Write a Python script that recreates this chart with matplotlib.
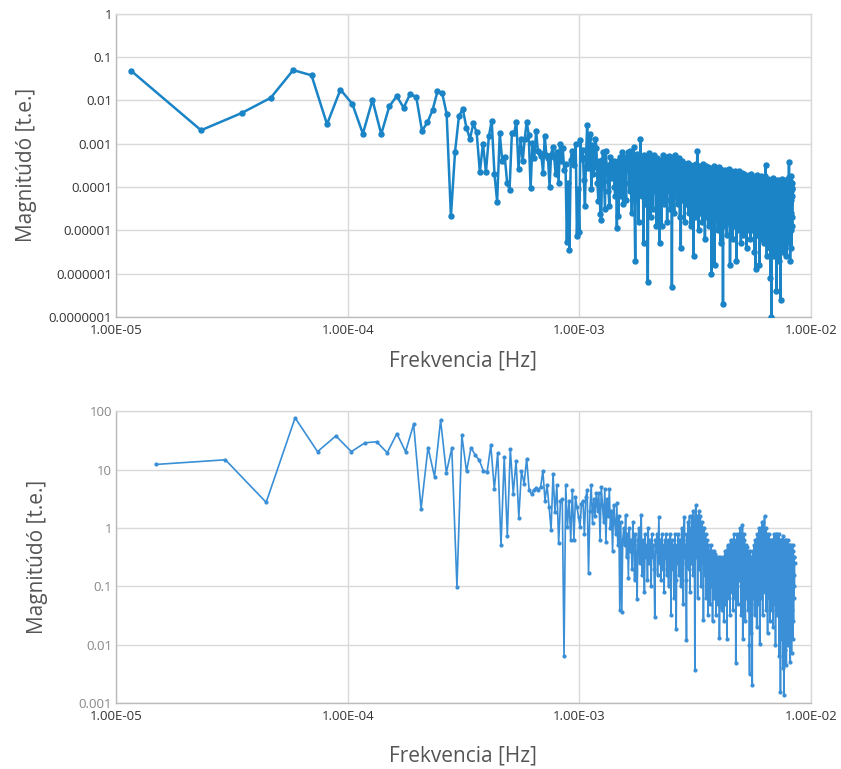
import numpy as np
import matplotlib
matplotlib.use("Agg")
import matplotlib.pyplot as plt
from matplotlib.ticker import FixedLocator, FixedFormatter

plt.rcParams['font.family'] = ['Open Sans', 'DejaVu Sans']

# FFT bin spacing of the two spectra [Hz]
df_top = 1.164e-5
df_bottom = 1.483e-5

# log10 of the magnitude (one value per bin)
top_log = [
    -1.32, -2.69, -2.29, -1.94, -1.30, -1.42, -2.55, -1.75, -2.08, -2.77,
    -1.99, -2.78, -2.14, -1.90, -2.17, -1.85, -1.92, -2.70, -2.51, -2.22,
    -1.79, -1.83, -2.31, -4.68, -3.19, -2.36, -2.20, -2.63, -2.89, -2.53,
    -2.74, -3.66, -3.00, -3.66, -2.83, -2.47, -3.70, -4.34, -2.76, -3.41,
    -3.31, -3.91, -4.06, -2.76, -2.76, -2.49, -3.58, -2.89, -3.40, -2.89,
    -2.49, -2.79,
    -4.03, -2.99, -3.33, -2.71, -3.17, -3.22, -3.28, -3.67, -2.82, -3.25,
    -3.33, -3.99, -3.25, -3.08, -3.31, -3.71, -3.2, -3.9, -3.0, -3.4,
    -3.1, -3.6, -3.48, -5.28, -3.9, -5.45, -3.37, -3.16, -3.28, -3.5,
    -3.0, -5.13, -4.05, -5.03, -2.91, -3.36, -3.14, -3.83, -4.43, -3.3,
    -2.56, -3.56, -2.86, -2.78, -4.05, -3.03, -3.7, -3.53, -2.89, -3.10,
    -3.9, -4.33, -3.4, -4.62, -4.76, -3.37, -3.2, -3.87, -4.51, -3.16,
    -3.6, -3.49, -4.1, -4.45, -3.3, -3.53, -3.8, -3.60, -3.41, -4.0,
    -4.22, -3.5, -4.95, -3.4, -4.68, -3.53, -3.3, -4.2, -3.7, -3.2,
    -4.4, -3.5, -3.3, -3.9, -4.3, -3.4, -3.2, -3.6,
    -3.42, -4.1, -3.18, -3.7, -4.6, -3.31, -3.9, -3.08, -4.3, -5.7, -3.52, -3.24, -4.0,
    -3.63, -4.8, -3.35, -3.71, -2.89, -3.47, -4.2, -3.38, -3.9, -5.3, -3.27, -3.6,
    -4.4, -3.33, -3.8, -4.1, -6.2, -3.46, -3.21, -4.0, -3.58, -4.7, -3.36, -3.9, -3.29,
    -4.5, -3.66, -3.25, -4.1, -3.52, -3.4, -4.9, -3.61, -3.32, -4.2, -3.77, -3.37,
    -5.3, -3.57, -3.39, -4.0, -4.9, -3.48, -3.26, -3.9, -4.4, -3.41, -3.69, -3.3, -4.3,
    -3.62, -3.35, -4.8, -3.51, -3.88, -3.28, -4.1, -3.64, -3.43, -4.5, -3.72, -3.31,
    -6.3, -3.53, -3.38, -4.0, -3.65, -4.6, -3.42, -3.27, -3.9, -4.2, -3.49, -3.74, -3.36,
    -4.4, -3.6, -3.33, -4.0, -3.55, -4.7, -3.63, -5.4, -3.47, -3.4, -3.9, -4.3,
    -3.59, -3.44, -4.1, -3.71, -4.8, -3.52, -3.46, -3.9, -4.4, -3.62, -3.5, -4.2, -3.79,
    -3.45, -4.6, -3.57, -4.0, -3.49, -3.73, -4.9, -3.6, -3.53, -4.3, -3.86, -3.58,
    -4.5, -3.68, -5.6, -3.55, -3.5, -4.1, -3.78, -4.7, -3.61, -3.47, -4.2, -3.87, -3.18,
    -4.4, -3.64, -3.7, -5.0, -3.56, -3.51, -4.0, -4.6, -3.69, -3.59, -4.3, -3.81,
    -3.62, -4.8, -3.71, -4.1, -3.48, -3.66, -4.5, -3.93, -3.58, -5.2, -3.77, -3.64, -4.2,
    -3.52, -4.7, -3.85, -3.61, -4.3, -4.0, -3.55, -4.9, -3.74, -3.92, -4.4, -3.57,
    -4.1, -3.69, -4.6, -3.83, -6.0, -3.58, -3.72, -4.2, -3.95, -4.8, -3.63, -3.51, -4.4,
    -3.88, -5.8, -3.67, -3.99, -4.3, -3.56, -4.7, -4.05, -3.75, -4.5, -3.62, -3.84,
    -5.0, -3.68, -4.2, -3.54, -4.6, -3.97, -3.73, -4.4, -4.1, -3.59, -5.3, -3.86, -3.66,
    -4.3, -3.95, -4.8, -3.61, -4.0, -6.7, -3.78, -3.64, -4.5, -4.02, -3.7, -4.9,
    -3.81, -4.2, -3.6, -4.6, -3.96, -3.72, -4.4, -5.1, -3.88, -3.65, -4.2, -4.05, -4.8,
    -3.77, -3.58, -4.5, -3.92, -4.1, -3.69, -5.8, -3.83, -4.3, -3.98, -4.7, -3.63,
    -3.74, -4.4, -4.06, -3.87, -5.2, -3.95, -4.2, -3.66, -4.6, -4.02, -3.79, -4.9, -3.91,
    -3.62, -4.3, -4.12, -3.84, -4.7, -3.97, -5.7, -3.71, -4.2, -3.86, -4.5, -4.04,
    -3.76, -4.8, -3.93, -4.1, -3.64, -4.4, -5.0, -3.82, -4.2, -3.96, -4.6, -3.73, -4.05,
    -5.3, -3.85, -3.97, -4.3, -4.08, -4.7, -3.68, -3.91, -4.5, -4.14, -3.79, -5.1,
    -3.94, -4.2, -3.7, -4.6, -4.03, -3.81, -4.9, -3.95, -4.3, -3.74, -4.5, -4.11, -3.86,
    -5.4, -3.92, -4.06, -4.4, -3.77, -4.7, -4.01, -3.89, -4.3, -5.0, -3.72, -4.15,
    -4.6, -3.93, -3.8, -4.4, -4.07, -5.2, -3.88, -4.2, -3.69, -4.8, -4.03, -3.94, -4.5,
    -4.13, -3.78, -5.0, -3.96, -4.3, -4.05, -4.7, -3.83, -4.1, -4.4, -3.91, -5.5,
    -3.87, -4.2, -4.04, -4.6, -3.76, -4.3, -5.9, -3.92, -4.1, -4.8, -3.85, -4.02, -4.4,
    -3.73, -5.1, -4.06, -4.2, -3.95, -4.7, -4.08, -3.81, -4.5, -4.12, -3.9, -5.8,
    -4.03, -4.3, -3.86, -4.9, -4.07, -4.2, -3.75, -4.6, -4.14, -3.93, -5.2, -4.01, -4.4,
    -3.84, -4.8, -4.1, -3.97, -4.3, -5.0, -3.88, -4.2, -4.05, -4.6, -3.79, -4.4,
    -5.3, -4.02, -4.1, -3.91, -4.7, -4.06, -3.74, -3.49, -4.2, -4.9, -3.87, -4.1, -4.5,
    -4.04, -5.6, -3.95, -4.3, -4.08, -4.8, -3.82, -4.2, -4.6, -4.03, -5.1, -3.94,
    -4.4, -4.07, -4.8, -3.9, -4.2, -5.4, -4.05, -4.1, -4.6, -6.1, -3.86, -4.3, -4.02,
    -5.0, -4.13, -7.0, -3.97, -4.2, -4.7, -3.84, -4.4, -5.3, -4.06, -4.1, -4.9,
    -3.98, -4.3, -3.79, -5.6, -4.11, -4.2, -4.6, -4.04, -5.1, -3.88, -4.4, -4.12, -4.8,
    -3.95, -4.2, -5.4, -4.07, -4.5, -4.14, -6.4, -3.92, -4.3, -4.7, -3.83, -4.2,
    -5.0, -4.06, -4.4, -4.15, -4.9, -3.87, -4.2, -5.3, -4.03, -4.6, -4.1, -4.3, -5.7,
    -3.96, -4.2, -4.8, -3.85, -4.4, -4.09, -5.1, -4.01, -6.6, -4.2, -4.5, -3.93,
    -4.8, -4.12, -3.82, -4.3, -5.2, -4.04, -4.6, -4.13, -4.2, -5.5, -3.89, -4.4, -4.02,
    -4.9, -4.1, -4.3, -5.0, -3.86, -4.2, -4.7, -4.05, -4.4, -5.4, -4.14, -3.91,
    -4.5, -4.08, -5.1, -3.97, -4.3, -4.8, -3.84, -4.2, -4.6, -5.6, -4.03, -4.3, -4.11,
    -4.9, -3.88, -4.4, -5.2, -3.99, -4.2, -4.7, -3.81, -4.5, -4.06, -5.0, -3.76,
    -4.3, -3.43, -4.6, -3.98, -5.3, -4.07, -4.2, -4.8, -3.86, -5.7, -4.02, -4.4, -4.1,
    -5.0, -3.74, -4.3, -4.6, -3.95, -5.4, -4.05, -4.2, -4.7, -3.9, -4.9, -4.02,
]

bottom_log = [
    1.09, 1.17, 0.44, 1.89, 1.31, 1.58, 1.31, 1.46, 1.48, 1.29,
    1.62, 1.31, 1.78, 0.33, 1.38, 0.88, 1.85, 0.95, 1.37, -1.01,
    1.59, 0.97, 1.38, 1.25, 1.16, 0.98, 0.96, 1.42, 0.67, 1.29,
    -0.30, 1.22, -0.13, 1.36, 0.59, 1.15, 0.18, 0.98, 0.76, 1.19,
    0.65, 0.58, 0.66, 0.69, 0.65, 0.71, 0.98, 0.47, 0.73, 0.36,
    -0.03, 0.93, 0.27, 0.73, -0.26, 0.47, 0.50, -2.2, 0.73, 0.02,
    0.47, -0.21, 0.65, -0.21, 0.53, 0.36, 0.19, 0.02, 0.42, 0.47,
    -0.10, 0.53, 0.65, -0.78, 0.30, 0.73, 0.08, 0.5, 0.2, 0.6,
    0.3, 0.6, -0.2, 0.7, 0.4, 0.1, 0.67, -0.24, 0.5, 0.2, 0.67, 0.0, 0.3,
    -0.4, 0.4, 0.1, -0.1, 0.43, -0.3, 0.2, -1.41, 0.1, -1.44, -0.2, 0.0,
    -0.3, 0.22, -0.5, -0.1, -0.85, 0.0, -0.4, -0.2, -0.7, 0.1, -0.3, -0.9, -0.1,
    -0.5, -1.21, -0.2, 0.0, -0.6, -0.3, 0.22, -0.8, -0.2, -0.4, -1.1, -0.1,
    -0.5, -0.3, -0.9, 0.0, -0.6, -0.2, -0.4, -1.0, -0.1, -0.5, -0.3, -0.7, -1.53,
    -0.2, -0.4, -0.1, -0.8, -0.3, 0.19, -0.6, -0.2, -0.9, -0.4, -0.1, -0.7,
    -0.3, -1.1, -0.2, -0.5, -0.1, -0.8, -0.4, -0.2, -1.0, -0.3, -0.6, -0.1, -1.5,
    -0.4, -0.2, -0.7, -0.3, -1.2, -0.5, -0.1, -0.9, -1.73, -0.3, -0.6, -0.2,
    -0.10, -0.8, -0.4, -0.2, -1.0, -0.3, 0.0, -0.6, -0.2, -1.3, -0.1, 0.19, -0.5,
    -0.3, -0.9, -1.93, -0.1, -0.4, 0.1, -0.7, -0.2, 0.2, -1.1, -0.3, 0.0,
    -0.6, 0.2, -0.2, -0.8, 0.3, -0.4, -0.1, -2.43, 0.1, 0.39, -0.5, 0.2, -0.3,
    -1.2, 0.1, -0.2, 0.3, -0.7, -0.1, 0.2, -1.0, -0.3, 0.1, -0.6, 0.0,
    -0.4, -1.58, -0.2, 0.0, -0.8, -0.3, -0.1, -1.2, -0.4, -0.2, -0.7, -0.5, -1.5,
    -0.3, -0.6, -0.9, -0.4, -1.3, -0.5, -0.3, -1.0, -0.7, -0.4, -1.6, -0.5,
    -0.8, -0.4, -1.2, -0.6, -0.44, -1.0, -0.7, -1.5, -0.5, -0.9, -0.6, -1.3, -0.5,
    -0.8, -1.1, -0.6, -1.88, -0.7, -0.5, -1.2, -0.8, -0.55, -1.4, -0.6, -0.9,
    -0.5, -1.1, -0.7, -1.6, -0.5, -0.8, -0.4, -1.3, -0.6, -1.0, -0.4, -0.7, -1.9,
    -0.5, -0.3, -0.9, -0.6, -1.2, -0.4, -0.7, -0.3, -1.5, -0.5, -0.2, -0.8,
    -0.4, -1.1, -0.3, -0.6, -0.2, -1.4, -0.5, -0.3, -0.9, -0.1, -0.6, -1.2, -0.3,
    -0.5, -2.32, -0.2, -0.7, -0.4, -1.0, -0.1, -0.5, -0.3, -1.3, -0.2, -0.6,
    -0.1, -0.9, -0.3, 0.0, -0.7, -0.2, -1.5, -0.4, -0.1, -0.8, -0.3, 0.05, -1.90,
    -0.2, -0.6, -0.1, -1.1, -0.4, -0.2, -0.8, -0.5, -1.6, -0.3, -0.7, -0.4,
    -1.2, -0.5, -0.33, -0.9, -0.6, -1.4, -0.4, -0.8, -1.1, -0.5, -2.0, -2.5, -0.6,
    -0.9, -0.4, -1.3, -0.7, -0.5, -1.8, -0.6, -1.0, -2.70, -0.5, -0.8, -0.4,
    -1.2, -0.6, -0.3, -1.0, -0.5, -1.5, -0.3, -0.7, -0.2, -1.1, -0.4, -0.6, -0.2,
    -1.7, -0.3, -0.5, -0.1, -0.9, -0.4, -1.3, -0.2, -0.6, 0.0, -1.0, -0.3,
    -1.99, -0.2, -0.5, -0.1, -0.8, 0.0, -0.4, -1.2, -0.2, 0.1, -0.6, -0.3, -1.5,
    -0.1, -0.4, 0.1, -0.9, -0.2, -0.5, 0.0, 0.20, -1.1, -0.3, -0.1, -0.7,
    -0.2, -1.4, 0.0, -0.5, -0.3, -1.0, -0.1, -0.6, -1.8, -0.2, -0.4, -0.8, -0.3,
    -0.1, -1.2, -0.5, -0.2, -0.9, -0.4, -1.6, -0.3, -0.6, -0.2, -1.1, -0.5,
    -0.3, -0.8, -1.4, -0.4, -0.2, -1.0, -0.6, -0.3, -1.7, -0.5, -0.2, -0.9, -0.4,
    -0.1, -1.3, -0.5, -0.3, -0.8, -0.2, -2.0, -0.4, -0.1, -0.7, -0.3, -1.1,
    -0.2, -0.6, -0.10, -1.5, -0.4, -0.2, -0.9, -0.3, -1.2, -0.5, -0.1, -2.2, -0.4,
    -0.3, -0.8, -0.2, -1.4, -0.6, -2.81, -0.3, -0.5, -1.0, -0.2, -0.7, -1.9,
    -0.4, -0.2, -1.3, -0.6, -0.3, -2.4, -0.5, -0.13, -1.1, -0.4, -2.87, -0.3, -0.6,
    -1.6, -0.2, -0.8, -0.4, -2.1, -0.3, -0.7, -1.2, -0.5, -0.2, -2.35, -0.6,
    -0.3, -1.0, -0.5, -1.7, -0.4, -0.2, -0.9, -0.6, -2.0, -0.4, -0.3, -1.3, -0.7,
    -0.5, -1.8, -0.3, -0.6, -1.1, -0.4, -2.3, -0.5, -0.8, -0.3, -1.5, -0.6,
    -0.41, -2.15, -0.5, -0.9, -0.4, -1.4, -0.7, -0.3, -1.9, -0.6, -1.0, -0.4, -1.6,
    -0.5, -0.8, -1.2, -0.5, -1.0, -0.6,
]

top_yticks = [1e-7, 1e-6, 1e-5, 1e-4, 1e-3, 1e-2, 1e-1, 1]
top_ylabels = ['0.0000001', '0.000001', '0.00001', '0.0001', '0.001', '0.01', '0.1', '1']
bottom_yticks = [1e-3, 1e-2, 1e-1, 1, 10, 100]
bottom_ylabels = ['0.001', '0.01', '0.1', '1', '10', '100']
xticks = [1e-5, 1e-4, 1e-3, 1e-2]
xlabels = ['1.00E-05', '1.00E-04', '1.00E-03', '1.00E-02']

# bin frequencies
f_top = df_top * np.arange(1, len(top_log) + 1)
f_bottom = df_bottom * np.arange(1, len(bottom_log) + 1)
m_top = 10 ** np.array(top_log)
m_bottom = 10 ** np.array(bottom_log)

fig = plt.figure(figsize=(8.41, 7.69), dpi=100)
ax1 = fig.add_axes([0.138, 0.588, 0.826, 0.394])
ax2 = fig.add_axes([0.138, 0.086, 0.826, 0.379])

grid_c = '#d9d9d9'


def style_axes(ax, yticks, ylabels, ylim, ycolor):
    ax.set_xscale('log')
    ax.set_yscale('log')
    ax.set_xlim(1e-5, 1e-2)
    ax.set_ylim(*ylim)
    ax.xaxis.set_major_locator(FixedLocator(xticks))
    ax.xaxis.set_major_formatter(FixedFormatter(xlabels))
    ax.yaxis.set_major_locator(FixedLocator(yticks))
    ax.yaxis.set_major_formatter(FixedFormatter(ylabels))
    ax.minorticks_off()
    ax.tick_params(length=0, labelsize=9.5, pad=4)
    ax.tick_params(axis='y', labelcolor=ycolor, pad=3)
    ax.tick_params(axis='x', labelcolor='#333333', pad=5)
    ax.grid(True, color=grid_c, lw=1)
    ax.set_axisbelow(True)
    for s in ax.spines.values():
        s.set_color(grid_c)
        s.set_linewidth(1)
    ax.spines['left'].set_color('#bbbbbb')
    ax.spines['bottom'].set_color('#bbbbbb')


ax1.plot(f_top, m_top, color='#1a84c7', lw=1.8, marker='o', ms=3.6, zorder=3)
style_axes(ax1, top_yticks, top_ylabels, (1e-7, 1), '#333333')
ax1.set_ylabel('Magnitúdó [t.e.]', fontsize=15, color='#555555', labelpad=8)
ax1.set_xlabel('Frekvencia [Hz]', fontsize=15, color='#555555', labelpad=10)

ax2.plot(f_bottom, m_bottom, color='#3a8fd6', lw=1.2, marker='o', ms=2.0, zorder=3)
style_axes(ax2, bottom_yticks, bottom_ylabels, (1e-3, 100), '#888888')
ax2.set_ylabel('Magnitúdó [t.e.]', fontsize=15, color='#555555', labelpad=22)
ax2.set_xlabel('Frekvencia [Hz]', fontsize=15, color='#555555', labelpad=16)

fig.savefig('out.png', dpi=100)
